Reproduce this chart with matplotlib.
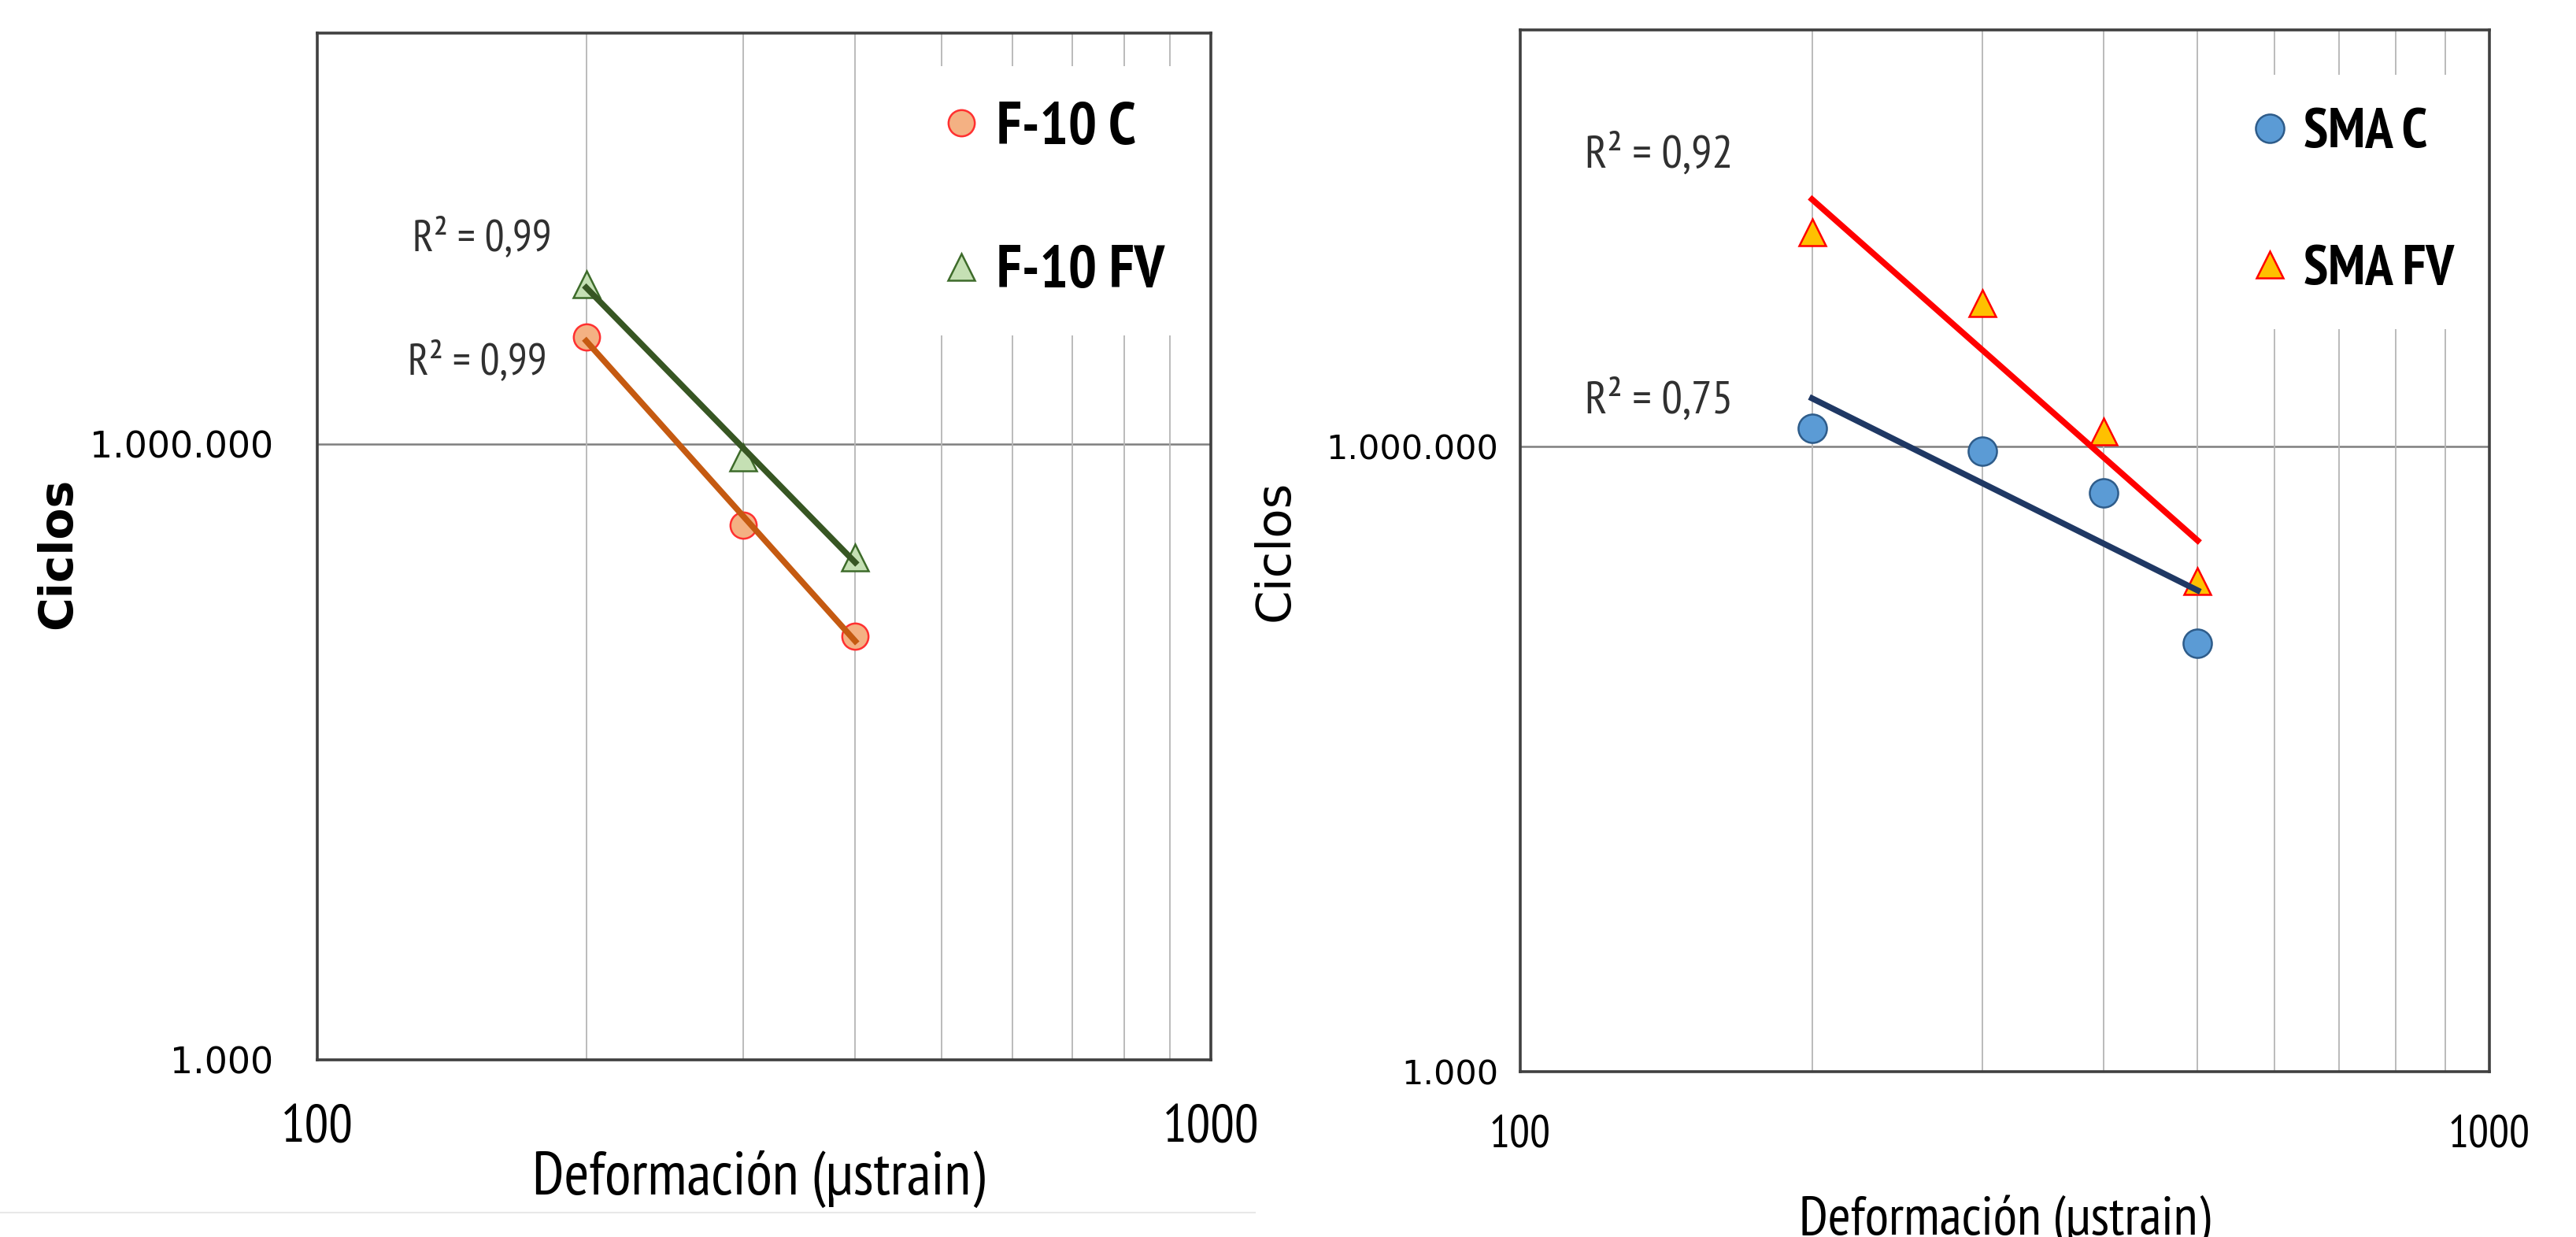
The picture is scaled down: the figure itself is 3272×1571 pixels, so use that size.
import numpy as np
import matplotlib
matplotlib.use("Agg")
import matplotlib.pyplot as plt
from matplotlib import font_manager
from matplotlib.lines import Line2D

# data (cycles vs strain, log-log)
strain_f10 = [200, 300, 400]
f10_c = [3.3e6, 4.0e5, 1.16e5]
f10_fv = [6.0e6, 8.6e5, 2.8e5]

strain_sma = [200, 300, 400, 500]
sma_c = [1.22e6, 9.5e5, 6.0e5, 1.14e5]
sma_fv = [1.07e7, 4.9e6, 1.18e6, 2.26e5]

r2_f10 = ["R² = 0,99", "R² = 0,99"]    # FV, C
r2_sma = ["R² = 0,92", "R² = 0,75"]    # FV, C

y_ticks = [1e3, 1e6]
y_ticklabels = ["1.000", "1.000.000"]
x_ticks = [100, 1000]
x_ticklabels = ["100", "1000"]


def pick_font(cands, fallback="DejaVu Sans"):
    have = {f.name for f in font_manager.fontManager.ttflist}
    for c in cands:
        if c in have:
            return c
    return fallback


NARROW = [pick_font(["PT Sans Narrow", "Roboto Condensed", "Archivo Narrow",
                     "Liberation Sans Narrow", "Pragati Narrow",
                     "IBM Plex Sans Condensed", "Carlito"]), "DejaVu Sans"]
WIDE = ["DejaVu Sans"]


def power_trend(x, y):
    # straight line fit in log-log space, drawn between first and last x
    lx, ly = np.log10(x), np.log10(y)
    slope, icpt = np.polyfit(lx, ly, 1)
    xs = np.array([min(x), max(x)], dtype=float)
    return xs, 10 ** (icpt + slope * np.log10(xs))


def style_axes(ax, xsize, ysize, tickpad_x, tickpad_y):
    ax.set_xscale("log")
    ax.set_yscale("log")
    ax.set_xlim(100, 1000)
    ax.set_ylim(1e3, 1e8)
    ax.set_xticks(x_ticks)
    ax.set_xticklabels(x_ticklabels, family=NARROW, fontsize=xsize)
    ax.set_xticks(np.arange(200, 1000, 100), minor=True)
    ax.set_xticklabels([], minor=True)
    ax.set_yticks(y_ticks)
    ax.set_yticklabels(y_ticklabels, family=WIDE, fontsize=ysize)
    ax.set_yticks([], minor=True)
    ax.tick_params(which="both", length=0)
    ax.tick_params(axis="x", pad=tickpad_x)
    ax.tick_params(axis="y", pad=tickpad_y)
    ax.grid(False)
    ax.xaxis.grid(True, which="minor", color="#b5b5b5", lw=1.3)
    ax.axhline(1e6, color="#7f7f7f", lw=1.8, zorder=1)
    for sp in ax.spines.values():
        sp.set_color("#404040")
        sp.set_linewidth(2.6)


def add_legend(ax, anchor, size, spacing):
    return ax.legend(loc="upper left", bbox_to_anchor=anchor,
                     borderaxespad=0, frameon=True, fancybox=False,
                     framealpha=1, edgecolor="none", facecolor="white",
                     labelspacing=spacing, handletextpad=0.15,
                     handlelength=0.9, borderpad=0.6,
                     prop={"family": NARROW, "size": size, "weight": "bold"})


fig = plt.figure(figsize=(32.73, 15.71), dpi=100)
rend = fig.canvas.get_renderer()


def size_for(text, target, weight="normal"):
    # font size (pt) that gives the narrow-font text the reference width (px)
    t = fig.text(0, 0, text, family=NARROW, fontsize=40, fontweight=weight)
    w = t.get_window_extent(rend).width
    t.remove()
    return 40 * target / w


ax1 = fig.add_axes([0.1231, 0.1432, 0.3468, 0.8301])
ax2 = fig.add_axes([0.590, 0.1337, 0.3761, 0.8421])

# ---- left: F-10
style_axes(ax1, size_for("100", 92), 33, 40, 40)
ax1.plot(strain_f10, f10_c, ls="none", marker="o", ms=24, mfc="#f4b183",
         mec="#ff3030", mew=1.8, label="F-10 C", zorder=3)
ax1.plot(strain_f10, f10_fv, ls="none", marker="^", ms=25, mfc="#c5e0b4",
         mec="#3d6b2a", mew=1.8, label="F-10 FV", zorder=3)
xs, ys = power_trend(strain_f10, f10_c)
ax1.plot(xs, ys, color="#c55a11", lw=5.5, zorder=4)
xs, ys = power_trend(strain_f10, f10_fv)
ax1.plot(xs, ys, color="#375623", lw=5.5, zorder=4)
r2_size_l = size_for(r2_f10[0], 177)
ax1.text(153, 1.0e7, r2_f10[0], family=NARROW, fontsize=r2_size_l,
         color="#303030", ha="center", va="center")
ax1.text(151, 2.5e6, r2_f10[1], family=NARROW, fontsize=r2_size_l,
         color="#303030", ha="center", va="center")
add_legend(ax1, (0.65, 0.968), size_for("F-10 C", 177, "bold"), 1.5)
ax1.set_xlabel("Deformación (µstrain)", family=NARROW,
               fontsize=size_for("Deformación (µstrain)", 574))
ax1.xaxis.set_label_coords(0.494, -0.088)
ax1.set_ylabel("Ciclos", family=WIDE, fontsize=42, fontweight="bold")
ax1.yaxis.set_label_coords(-0.265, 0.493)

# ---- right: SMA
style_axes(ax2, size_for("100", 78), 31, 40, 20)
ax2.plot(strain_sma, sma_c, ls="none", marker="o", ms=26, mfc="#5b9bd5",
         mec="#2e5c8a", mew=1.8, label="SMA C", zorder=3)
ax2.plot(strain_sma, sma_fv, ls="none", marker="^", ms=24, mfc="#ffc000",
         mec="#ff0000", mew=1.8, label="SMA FV", zorder=3)
xs, ys = power_trend(strain_sma, sma_fv)
ax2.plot(xs, ys, color="#ff0000", lw=5.5, zorder=4)
xs, ys = power_trend(strain_sma, sma_c)
ax2.plot(xs, ys, color="#1f3864", lw=5.5, zorder=4)
r2_size_r = size_for(r2_sma[0], 188)
ax2.text(139, 2.5e7, r2_sma[0], family=NARROW, fontsize=r2_size_r,
         color="#303030", ha="center", va="center")
ax2.text(139, 1.66e6, r2_sma[1], family=NARROW, fontsize=r2_size_r,
         color="#303030", ha="center", va="center")
add_legend(ax2, (0.713, 0.957), size_for("SMA C", 157, "bold"), 1.55)
ax2.set_xlabel("Deformación (µstrain)", family=NARROW,
               fontsize=size_for("Deformación (µstrain)", 522))
ax2.xaxis.set_label_coords(0.5, -0.118)
ax2.set_ylabel("Ciclos", family=WIDE, fontsize=44)
ax2.yaxis.set_label_coords(-0.229, 0.5)

# faint border of the left chart area
fig.add_artist(Line2D([0, 0.487], [0.02, 0.02], color="#e8e8e8", lw=1.5))

fig.savefig("out.png", dpi=100, facecolor="white")
